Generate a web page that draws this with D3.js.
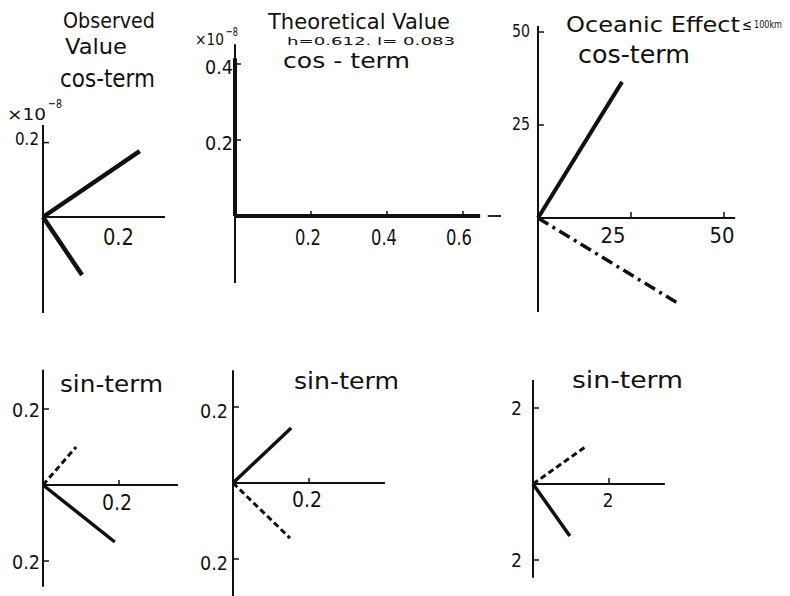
<!DOCTYPE html>
<html>
<head>
<meta charset="utf-8">
<script src="https://cdn.jsdelivr.net/npm/d3@7"></script>
<style>
  html, body { margin: 0; padding: 0; background: #fff; }
  svg { display: block; }
  text { font-family: "DejaVu Sans", "Liberation Sans", sans-serif; fill: #111; }
</style>
</head>
<body>
<svg id="chart" width="790" height="596"></svg>
<script>
// ---- vector components (cos / sin terms) ----
// each entry: [x-component, y-component]
const observedCosSolid   = [[0.26, 0.177], [0.105, -0.156]];
const observedCosDashed  = [];
const theoryCosSolid     = [[0, 0.415], [0.645, 0]];
const theoryCosDashed    = [];
const oceanCosSolid      = [[22.6, 36.6]];
const oceanCosDashed     = [[37.4, -22.8]];
const observedSinSolid   = [[0.189, -0.15]];
const observedSinDashed  = [[0.087, 0.10]];
const theorySinSolid     = [[0.153, 0.145]];
const theorySinDashed    = [[0.15, -0.145]];
const oceanSinSolid      = [[0.97, -1.37]];
const oceanSinDashed     = [[1.37, 0.97]];

// ---- tick values ----
const observedCosXTicks = [0.2];
const observedCosYTicks = [0.2];
const theoryCosXTicks   = [0.2, 0.4, 0.6];
const theoryCosYTicks   = [0.2, 0.4];
const oceanCosXTicks    = [25, 50];
const oceanCosYTicks    = [25, 50];
const observedSinXTicks = [0.2];
const observedSinYTicks = [0.2, -0.2];
const theorySinXTicks   = [0.2];
const theorySinYTicks   = [0.2, -0.2];
const oceanSinXTicks    = [2];
const oceanSinYTicks    = [2, -2];

const svg = d3.select("#chart");
svg.append("rect").attr("width", 790).attr("height", 596).attr("fill", "#fff");

function txt(s, x, y, size, anchor, width) {
  const t = svg.append("text")
    .attr("x", x).attr("y", y)
    .attr("font-size", size)
    .attr("text-anchor", anchor || "start")
    .text(s);
  if (width) t.attr("textLength", width).attr("lengthAdjust", "spacingAndGlyphs");
  return t;
}

const fmt = v => String(Math.abs(v));

function panel(p) {
  const x = d3.scaleLinear().domain([0, 1]).range([p.ox, p.ox + p.k]);
  const y = d3.scaleLinear().domain([0, 1]).range([p.oy, p.oy - p.k]);
  const g = svg.append("g");

  // axes
  const xSegs = p.xSegs || [p.xExt];
  xSegs.forEach(s => g.append("line")
    .attr("x1", x(s[0])).attr("x2", x(s[1]))
    .attr("y1", y(0)).attr("y2", y(0))
    .attr("stroke", "#111").attr("stroke-width", 1.8));
  g.append("line")
    .attr("x1", x(0)).attr("x2", x(0))
    .attr("y1", y(p.yExt[0])).attr("y2", y(p.yExt[1]))
    .attr("stroke", "#111").attr("stroke-width", 2);

  // y ticks (to the right of the axis) and labels
  p.yTicks.forEach(v => {
    g.append("line")
      .attr("x1", x(0)).attr("x2", x(0) + 6)
      .attr("y1", y(v)).attr("y2", y(v))
      .attr("stroke", "#111").attr("stroke-width", 1.5);
    txt(fmt(v), p.yLabX, y(v) + p.yLabDy, p.yLabSize, "end", p.yLabW);
  });

  // x ticks (upward) and labels
  p.xTicks.forEach((v, i) => {
    if (p.xTickLen) {
      g.append("line")
        .attr("x1", x(v)).attr("x2", x(v))
        .attr("y1", y(0)).attr("y2", y(0) - p.xTickLen)
        .attr("stroke", "#111").attr("stroke-width", 1.5);
    }
    const dx = p.xLabDx ? p.xLabDx[i] : 0;
    txt(fmt(v), x(v) + dx, p.xLabY, p.xLabSize, "middle", p.xLabW);
  });

  // vectors from the origin
  p.solid.forEach(d => g.append("line")
    .attr("x1", x(0)).attr("y1", y(0))
    .attr("x2", x(d[0])).attr("y2", y(d[1]))
    .attr("stroke", "#111").attr("stroke-width", p.solidW)
    .attr("stroke-linecap", "butt"));
  p.dashed.forEach(d => g.append("line")
    .attr("x1", x(0)).attr("y1", y(0))
    .attr("x2", x(d[0])).attr("y2", y(d[1]))
    .attr("stroke", "#111").attr("stroke-width", p.dashW)
    .attr("stroke-dasharray", p.dash));
}

// Observed value, cos-term
panel({
  ox: 43, oy: 217, k: 372,
  xExt: [0, 0.328], yExt: [-0.258, 0.247],
  xTicks: observedCosXTicks, yTicks: observedCosYTicks,
  xTickLen: 0, xLabY: 245, xLabSize: 23, xLabW: 31, xLabDx: [1],
  yLabX: 39, yLabDy: 2, yLabSize: 17, yLabW: 24,
  solid: observedCosSolid, dashed: observedCosDashed,
  solidW: 4.5, dashW: 3, dash: "6,3.5"
});

// Theoretical value, cos-term
panel({
  ox: 235, oy: 216, k: 380,
  xExt: [0, 0.70], xSegs: [[0, 0.645], [0.665, 0.70]], yExt: [-0.176, 0.452],
  xTicks: theoryCosXTicks, yTicks: theoryCosYTicks,
  xTickLen: 5, xLabY: 245, xLabSize: 21, xLabW: 26, xLabDx: [-3, -3, -4],
  yLabX: 233, yLabDy: 10, yLabSize: 20, yLabW: 28,
  solid: theoryCosSolid, dashed: theoryCosDashed,
  solidW: 4, dashW: 3, dash: "6,3.5"
});

// Oceanic effect, cos-term
panel({
  ox: 538, oy: 218, k: 3.72,
  xExt: [0, 53], yExt: [-25.3, 51.6],
  xTicks: oceanCosXTicks, yTicks: oceanCosYTicks,
  xTickLen: 6, xLabY: 243, xLabSize: 21, xLabW: 25, xLabDx: [-18, -2],
  yLabX: 530, yLabDy: 5, yLabSize: 17, yLabW: 18,
  solid: oceanCosSolid, dashed: oceanCosDashed,
  solidW: 4, dashW: 3.5, dash: "12,5,3,5"
});

// Observed value, sin-term
panel({
  ox: 43, oy: 485, k: 380,
  xExt: [0, 0.355], yExt: [-0.268, 0.303],
  xTicks: observedSinXTicks, yTicks: observedSinYTicks,
  xTickLen: 5, xLabY: 510, xLabSize: 21, xLabW: 30, xLabDx: [-2],
  yLabX: 40, yLabDy: 8, yLabSize: 20, yLabW: 28,
  solid: observedSinSolid, dashed: observedSinDashed,
  solidW: 3.5, dashW: 3, dash: "6,3.5"
});

// Theoretical value, sin-term
panel({
  ox: 233, oy: 483, k: 380,
  xExt: [0, 0.40], yExt: [-0.35, 0.297],
  xTicks: theorySinXTicks, yTicks: theorySinYTicks,
  xTickLen: 5, xLabY: 507, xLabSize: 21, xLabW: 30, xLabDx: [-2],
  yLabX: 228, yLabDy: 11, yLabSize: 20, yLabW: 28,
  solid: theorySinSolid, dashed: theorySinDashed,
  solidW: 3.5, dashW: 3, dash: "6,3.5"
});

// Oceanic effect, sin-term
panel({
  ox: 533, oy: 484, k: 38,
  xExt: [0, 3.47], yExt: [-2.47, 2.74],
  xTicks: oceanSinXTicks, yTicks: oceanSinYTicks,
  xTickLen: 6, xLabY: 507, xLabSize: 19, xLabW: 11, xLabDx: [-1],
  yLabX: 522, yLabDy: 7, yLabSize: 20, yLabW: 11,
  solid: oceanSinSolid, dashed: oceanSinDashed,
  solidW: 3.5, dashW: 3, dash: "6,3.5"
});

// ---- headings ----
txt("Observed", 63, 28, 21, "start", 92);
txt("Value", 65, 54, 21, "start", 62);
txt("cos-term", 60, 87, 24, "start", 95);
txt("×10", 7, 120, 16, "start", 39);
txt("−8", 48, 108, 13, "start", 14);

txt("Theoretical Value", 268, 29, 22, "start", 182);
txt("h=0.612.  l= 0.083", 287, 45, 10.5, "start", 168);
txt("cos - term", 283, 68, 22, "start", 127);
txt("×10", 195, 45, 16, "start", 29);
txt("−8", 226, 36, 13, "start", 12);

txt("Oceanic Effect", 566, 32, 22, "start", 174);
txt("≤", 742, 30, 15, "start", 10);
txt("100km", 782, 28, 10, "end", 28);
txt("cos-term", 578, 63, 25, "start", 112);

txt("sin-term", 60, 392, 23, "start", 103);
txt("sin-term", 294, 389, 23, "start", 105);
txt("sin-term", 572, 388, 23, "start", 111);
</script>
</body>
</html>
